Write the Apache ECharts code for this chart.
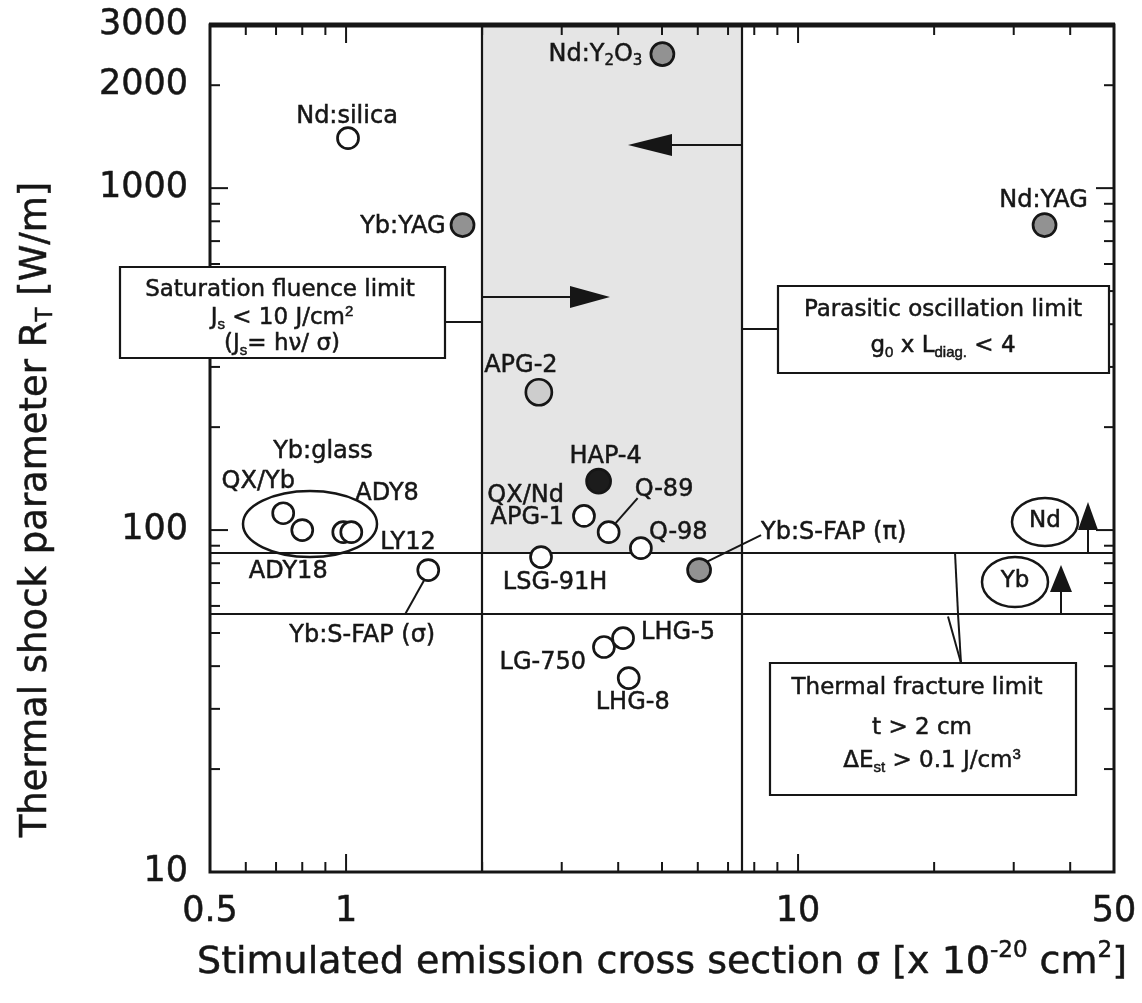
<!DOCTYPE html>
<html><head><meta charset="utf-8">
<script src="https://cdn.jsdelivr.net/npm/echarts@6/dist/echarts.min.js"></script>
<style>html,body{margin:0;padding:0;background:#fff}#c{width:1142px;height:1003px}</style>
</head><body><div id="c"></div>
<script>
const FONT = 'DejaVu Sans';
const INK = '#161616';
const EMB = 0.5; // faint text outline to mimic the heavier print

// ---- axis ticks / labels ----
const xTickLabels = [0.5, 1, 10, 50];
const yTickLabels = [10, 100, 1000, 2000, 3000];
const xMajorTicks = [1, 10];
const xMinorTicks = [0.6, 0.7, 0.8, 0.9, 2, 3, 4, 5, 6, 7, 8, 9, 20, 30, 40];
const yMajorTicks = [100, 1000];
const yMinorTicks = [20, 30, 40, 50, 60, 70, 80, 90, 200, 300, 400, 500, 600, 700, 800, 900, 2000];

// ---- materials (sigma [1e-20 cm2], R_T [W/m]) ----
const openNames = ['Nd:silica', 'QX/Nd APG-1', 'Q-89', 'Q-98', 'LSG-91H', 'LG-750', 'LHG-5', 'LHG-8',
                   'QX/Yb', 'ADY18', 'LY12', 'ADY8', 'Yb:S-FAP (σ)'];
const openX = [1.01, 3.36, 3.81, 4.49, 2.70, 3.72, 4.10, 4.22, 0.726, 0.80, 0.986, 1.027, 1.52];
const openY = [1400, 110, 98.6, 88.5, 83.4, 45.5, 48.3, 36.9, 112, 100, 98.6, 98.6, 76.4];

const grayNames = ['Yb:YAG', 'Nd:Y2O3', 'Nd:YAG', 'Yb:S-FAP (π)'];
const grayX = [1.81, 5.01, 35.1, 6.04];
const grayY = [780, 2466, 780, 76.4];

const lightNames = ['APG-2'];
const lightX = [2.67];
const lightY = [253];

const darkNames = ['HAP-4'];
const darkX = [3.62];
const darkY = [139];

// limits
const limitX = [2, 7.5];     // saturation fluence / parasitic oscillation
const limitY = [86, 57];     // thermal fracture (Nd / Yb)

// ---- label layout (style, not data) ----
const labelLayout = {
  'Nd:silica': {o: [-1, -21], a: 'center'},
  'QX/Nd APG-1': {o: [-20, -9], a: 'right', lh: 22},
  'Q-89': {o: [26, -42], a: 'left'},
  'Q-98': {o: [8, -15], a: 'left'},
  'LSG-91H': {o: [14, 26], a: 'center'},
  'LG-750': {o: [-18, 16], a: 'right'},
  'LHG-5': {o: [18, -5], a: 'left'},
  'LHG-8': {o: [4, 25], a: 'center'},
  'QX/Yb': {o: [-25, -31], a: 'center'},
  'ADY18': {o: [-14, 42], a: 'center'},
  'LY12': {o: [37, 11], a: 'left'},
  'ADY8': {o: [4, -38], a: 'left'},
  'Yb:S-FAP (σ)': {o: [-66, 66], a: 'center'},
  'Yb:YAG': {o: [-17, 2], a: 'right'},
  'Nd:Y2O3': {o: [-20, 1], a: 'right', lh: 28},
  'Nd:YAG': {o: [-1, -24], a: 'center'},
  'Yb:S-FAP (π)': {o: [62, -37], a: 'left'},
  'APG-2': {o: [-18, -26], a: 'center'},
  'HAP-4': {o: [7, -24], a: 'center'}
};
const display = {'Nd:Y2O3': 'Nd:Y{s|2}O{s|3}', 'QX/Nd APG-1': 'QX/Nd\nAPG-1'};
const RICH = {
  s: {fontSize: 15, verticalAlign: 'bottom', lineHeight: 13},
  p: {fontSize: 15, verticalAlign: 'top', lineHeight: 13}
};

function items(names, xs, ys) {
  return names.map((n, i) => {
    const L = labelLayout[n];
    return {name: n, value: [xs[i], ys[i]],
      label: {offset: L.o, align: L.a, lineHeight: L.lh || 26}};
  });
}
const baseLabel = {
  show: true, position: 'inside', formatter: p => display[p.name] || p.name,
  fontFamily: FONT, fontSize: 24, color: INK, verticalAlign: 'middle', rich: RICH,
  textBorderColor: INK, textBorderWidth: EMB
};
function scatter(name, data, fill, size) {
  return {
    type: 'scatter', name, data, symbol: 'circle', symbolSize: size, z: 10, silent: true,
    itemStyle: {color: fill, borderColor: INK, borderWidth: 2.7, opacity: 1},
    label: baseLabel, emphasis: {disabled: true}
  };
}
function tickSeries(data, isX) {
  return {
    type: 'custom', z: 6, silent: true, clip: false, data,
    encode: {x: 0, y: 1},
    renderItem: (params, api) => {
      const cs = params.coordSys;
      const len = api.value(2) ? 18 : 10;
      const st = {stroke: INK, lineWidth: 2};
      if (isX) {
        const x = api.coord([api.value(0), 100])[0];
        return {type: 'group', children: [
          {type: 'line', shape: {x1: x, y1: cs.y + cs.height, x2: x, y2: cs.y + cs.height - len}, style: st},
          {type: 'line', shape: {x1: x, y1: cs.y, x2: x, y2: cs.y + len}, style: st}]};
      }
      const y = api.coord([1, api.value(1)])[1];
      return {type: 'group', children: [
        {type: 'line', shape: {x1: cs.x, y1: y, x2: cs.x + len, y2: y}, style: st},
        {type: 'line', shape: {x1: cs.x + cs.width, y1: y, x2: cs.x + cs.width - len, y2: y}, style: st}]};
    }
  };
}
const tickLabelStyle = {fontFamily: FONT, fontSize: 35, color: INK, textBorderColor: INK, textBorderWidth: EMB,
  showMinLabel: true, showMaxLabel: true, formatter: v => String(+v.toPrecision(6))};

const chart = echarts.init(document.getElementById('c'));
const option = {
  animation: false,
  backgroundColor: '#fff',
  grid: {left: 210, top: 25, right: 28, bottom: 131, show: false},
  xAxis: {
    type: 'log', logBase: 10, min: 0.5, max: 50,
    axisLine: {show: false}, axisTick: {show: false}, splitLine: {show: false}, minorTick: {show: false},
    axisLabel: Object.assign({customValues: xTickLabels, margin: 22}, tickLabelStyle),
    name: 'Stimulated emission cross section σ [x 10{p|-20} cm{p|2}]',
    nameLocation: 'middle', nameGap: 68,
    nameTextStyle: {fontFamily: FONT, fontSize: 38, color: INK, lineHeight: 46,
      textBorderColor: INK, textBorderWidth: EMB,
      rich: {p: {fontSize: 23, verticalAlign: 'top', lineHeight: 20}}}
  },
  yAxis: {
    type: 'log', logBase: 10, min: 10, max: 3000,
    axisLine: {show: false}, axisTick: {show: false}, splitLine: {show: false}, minorTick: {show: false},
    axisLabel: Object.assign({customValues: yTickLabels, margin: 22}, tickLabelStyle),
    name: 'Thermal shock parameter R{s|T} [W/m]',
    nameLocation: 'middle', nameGap: 152, nameRotate: 90,
    nameTextStyle: {fontFamily: FONT, fontSize: 37, color: INK, lineHeight: 44, padding: [0, 122, 0, 0],
      textBorderColor: INK, textBorderWidth: EMB,
      rich: {s: {fontSize: 23, verticalAlign: 'bottom', lineHeight: 20}}}
  },
  series: [
    {type: 'line', data: [], z: 1, silent: true,
      markArea: {silent: true, itemStyle: {color: '#e5e5e5'},
        data: [[{coord: [limitX[0], limitY[0]]}, {coord: [limitX[1], 3000]}]]}},
    {type: 'line', data: [], z: 3, silent: true,
      markLine: {silent: true, symbol: ['none', 'none'], label: {show: false},
        lineStyle: {color: INK, width: 2.2, type: 'solid'},
        data: limitX.map(v => ({xAxis: v})).concat(limitY.map(v => ({yAxis: v})))}},
    tickSeries(xMajorTicks.map(v => [v, 100, 1]).concat(xMinorTicks.map(v => [v, 100, 0])), true),
    tickSeries(yMajorTicks.map(v => [1, v, 1]).concat(yMinorTicks.map(v => [1, v, 0])), false),
    scatter('open', items(openNames, openX, openY), '#ffffff', 21),
    scatter('gray', items(grayNames, grayX, grayY), '#929292', 23),
    scatter('light', items(lightNames, lightX, lightY), '#cdcdcd', 26),
    scatter('dark', items(darkNames, darkX, darkY), '#1c1c1c', 24)
  ]
};
chart.setOption(option);

// ---- annotations ----
const px = (x, y) => chart.convertToPixel({gridIndex: 0}, [x, y]);
const X2 = px(limitX[0], 100)[0], X75 = px(limitX[1], 100)[0];
const Y86 = px(1, limitY[0])[1], Y57 = px(1, limitY[1])[1];
const L0 = px(0.5, 3000), L1 = px(50, 10);
const Z = 100;
const ln = (x1, y1, x2, y2, w) => ({type: 'line', z: Z, silent: true, shape: {x1, y1, x2, y2}, style: {stroke: INK, lineWidth: w || 2}});
const poly = pts => ({type: 'polygon', z: Z, silent: true, shape: {points: pts}, style: {fill: INK}});
const txt = (text, x, y, fs) => ({type: 'text', z: Z + 1, silent: true, x, y,
  style: {text, fontFamily: FONT, fontSize: fs || 23, fill: INK, align: 'center', verticalAlign: 'middle', lineHeight: 28,
    stroke: INK, lineWidth: EMB, rich: RICH}});
const box = (x, y, w, h) => ({type: 'rect', z: Z, silent: true, shape: {x, y, width: w, height: h}, style: {fill: '#fff', stroke: INK, lineWidth: 2.2}});
const ell = (cx, cy, rx, ry) => ({type: 'ellipse', z: Z, silent: true, shape: {cx, cy, rx, ry}, style: {fill: 'none', stroke: INK, lineWidth: 2.5}});

const P = (n, list, xs, ys) => { const i = list.indexOf(n); return px(xs[i], ys[i]); };
const q89 = P('Q-89', openNames, openX, openY);
const sfs = P('Yb:S-FAP (σ)', openNames, openX, openY);
const sfp = P('Yb:S-FAP (π)', grayNames, grayX, grayY);

const graphic = [
  // frame
  {type: 'rect', z: 60, silent: true, shape: {x: L0[0], y: L0[1], width: L1[0] - L0[0], height: L1[1] - L0[1]},
    style: {fill: 'none', stroke: INK, lineWidth: 3}},
  ln(L0[0] - 1, L0[1], L1[0] + 1, L0[1], 5),
  // leader lines
  ln(q89[0] + 7, q89[1] - 9, q89[0] + 29, q89[1] - 34),
  ln(sfs[0] - 4, sfs[1] + 10, sfs[0] - 23, sfs[1] + 44),
  ln(sfp[0] + 7, sfp[1] - 8, sfp[0] + 62, sfp[1] - 35),
  // Yb:glass group
  ell(310, 524, 67, 33),
  txt('Yb:glass', 323, 452, 24),
  // saturation fluence limit
  box(120, 267, 325, 91),
  txt('Saturation fluence limit', 280, 290),
  txt('J{s|s} < 10 J/cm{p|2}', 282, 318),
  txt('(J{s|s}= hν/ σ)', 282, 344),
  ln(445, 322, X2, 322),
  ln(X2, 297, 580, 297),
  poly([[570, 286], [610, 297], [570, 308]]),
  ln(X75, 145, 668, 145),
  poly([[672, 134], [628, 145], [672, 156]]),
  // parasitic oscillation limit
  box(778, 286, 331, 87),
  txt('Parasitic oscillation limit', 943, 310),
  txt('g{s|0} x L{s|diag.} < 4', 943, 346),
  ln(X75, 329, 778, 329),
  // thermal fracture limit
  ln(955, Y86, 958, Y57),
  ln(958, Y57, 961, 663),
  ln(948, Y57 + 3, 961, 663),
  box(770, 663, 306, 132),
  txt('Thermal fracture limit', 917, 688),
  txt('t > 2 cm', 922, 728),
  txt('ΔE{s|st} > 0.1 J/cm{p|3}', 932, 761),
  // Nd / Yb markers
  ell(1045, 522, 33, 24), txt('Nd', 1045, 521),
  ln(1088, Y86, 1088, 522), poly([[1078, 530], [1088, 502], [1098, 530]]),
  ell(1015, 582, 33, 25), txt('Yb', 1015, 581),
  ln(1061, Y57, 1061, 586), poly([[1050, 592], [1061, 565], [1072, 592]])
];
chart.setOption({graphic});
</script>
</body></html>
